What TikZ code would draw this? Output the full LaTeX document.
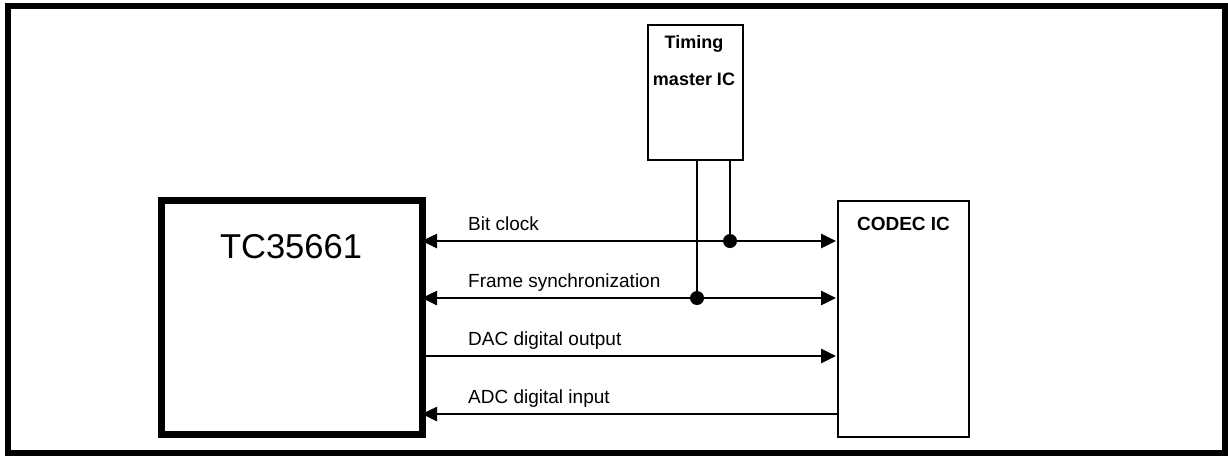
\documentclass[tikz,border=0pt]{standalone}
\usepackage{fontspec}
\setmainfont{Liberation Sans}
\usetikzlibrary{arrows.meta}
\begin{document}
\begin{tikzpicture}[x=1pt,y=-1pt,
  lbl/.style={anchor=base west,inner sep=0pt,font=\fontsize{19}{20}\selectfont},
  sig/.style={line width=2.6pt},
  tip/.style={-{Triangle[length=15pt,width=14pt]}},
  dtip/.style={{Triangle[length=15pt,width=14pt]}-{Triangle[length=15pt,width=14pt]}},
  dot/.style={circle,fill=black,inner sep=0pt,minimum size=14pt}]
\useasboundingbox (0,0) rectangle (1228,456);
\draw[line width=6pt] (8,6) rectangle (1225,453);
% blocks
\node[draw,line width=2pt,minimum width=95pt,minimum height=135pt,inner sep=0pt] (tm) at (695.5,92.5) {};
\node[draw,line width=7pt,minimum width=261pt,minimum height=234pt,inner sep=0pt] (tc) at (291.5,317) {};
\node[draw,line width=2pt,minimum width=131pt,minimum height=236pt,inner sep=0pt] (cd) at (903.5,319) {};
% titles
\node[anchor=base,inner sep=0pt,font=\fontsize{18}{20}\selectfont\bfseries] (tmt1) at (694,48) {Timing};
\node[anchor=base,inner sep=0pt,font=\fontsize{18}{20}\selectfont\bfseries] (tmt2) at (694,85) {master IC};
\node[anchor=base,inner sep=0pt,font=\fontsize{34.5}{36}\selectfont] (tct) at (291,258) {TC35661};
\node[anchor=base,inner sep=0pt,font=\fontsize{19}{20}\selectfont\bfseries] (cdt) at (903.5,230) {CODEC IC};
% anchor coordinates
\coordinate (l1) at (tc.east |- 0,241);
\coordinate (r1) at (cd.west |- 0,241);
\coordinate (l2) at (tc.east |- 0,298);
\coordinate (r2) at (cd.west |- 0,298);
\coordinate (l3) at (tc.east |- 0,356);
\coordinate (r3) at (cd.west |- 0,356);
\coordinate (l4) at (tc.east |- 0,414);
\coordinate (r4) at (cd.west |- 0,414);
% signal lines
\draw[sig,dtip,shorten <=-3.5pt,shorten >=1pt] (l1) -- (r1);
\draw[sig,dtip,shorten <=-3.5pt,shorten >=1pt] (l2) -- (r2);
\draw[sig,tip,shorten <=-3.5pt,shorten >=1pt] (l3) -- (r3);
\draw[sig,tip,shorten >=-3.5pt] (r4) -- (l4);
% junctions
\node[dot] (j1) at (730,241) {};
\node[dot] (j2) at (697,298) {};
\draw[sig] (tm.south -| j1) -- (j1.center);
\draw[sig] (tm.south -| j2) -- (j2.center);
% labels
\node[lbl] (t1) at (468,230) {Bit clock};
\node[lbl] (t2) at (468,287) {Frame synchronization};
\node[lbl] (t3) at (468,345) {DAC digital output};
\node[lbl] (t4) at (468,403) {ADC digital input};
\end{tikzpicture}
\end{document}
